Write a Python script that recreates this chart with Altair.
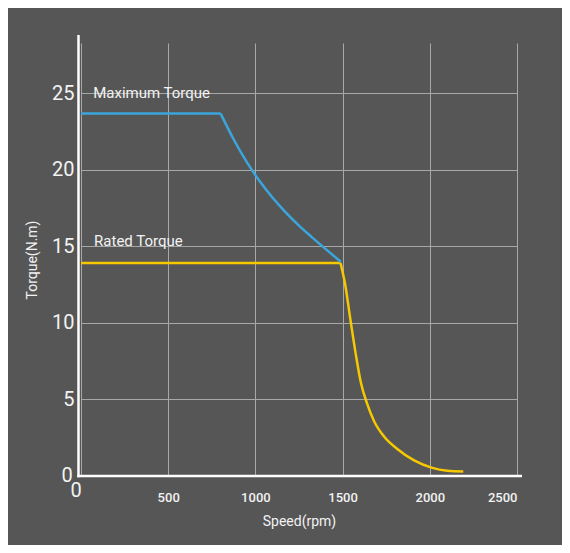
import altair as alt
import pandas as pd

# ---- data ----
max_speed = [0, 800, 875, 950, 1025, 1100, 1175, 1250, 1325, 1400, 1490]
max_torque = [23.7, 23.7, 22.01, 20.53, 19.26, 18.17, 17.22, 16.37, 15.60, 14.86, 14.0]

rated_speed = [0, 1488, 1515, 1545, 1575, 1605, 1640, 1680, 1740, 1810, 1910, 2010, 2100, 2192]
rated_torque = [13.92, 13.92, 12.5, 10.2, 8.0, 6.1, 4.75, 3.6, 2.55, 1.8, 1.02, 0.55, 0.35, 0.3]

series_names = ["Maximum Torque", "Rated Torque"]
series_colors = ["#3ba6dc", "#f6c800"]
label_speed = [70, 75]
label_torque = [25.0, 15.34]

x_ticks = [0, 500, 1000, 1500, 2000, 2500]
y_ticks = [0, 5, 10, 15, 20, 25]

FONT = "Roboto"
TXT = "#f2f2f2"
GRID = "#a8a8a8"
BG = "#565656"
W, H = 436, 433

# each series: a flat part (points 0..1) and a curved part (points 1..end)
rows = []
for name, sp, tq in [(series_names[0], max_speed, max_torque), (series_names[1], rated_speed, rated_torque)]:
    for i, (s, t) in enumerate(zip(sp, tq)):
        if i <= 1:
            rows.append({"series": name, "part": "flat", "speed": s, "torque": t, "idx": i})
        if i >= 1:
            rows.append({"series": name, "part": "curve", "speed": s, "torque": t, "idx": i})
df = pd.DataFrame(rows)

labels_df = pd.DataFrame({"text": series_names, "speed": label_speed, "torque": label_torque})
zero_df = pd.DataFrame({"speed": [0], "torque": [0], "text": ["0"]})

xscale = alt.Scale(domain=[0, 2500], nice=False, zero=False)
yscale = alt.Scale(domain=[0, 28.3], nice=False)

x_axis = alt.Axis(
    values=x_ticks, format="d", grid=True, gridColor=GRID, gridWidth=1, domain=False, ticks=False,
    labelExpr="datum.value == 0 ? '' : datum.label", labelFont=FONT, labelFontSize=13,
    labelFontWeight=500, labelColor=TXT, labelPadding=15, title="Speed(rpm)",
    titleFont=FONT, titleFontSize=14, titleFontWeight="normal", titleColor=TXT,
    titlePadding=10,
)
y_axis = alt.Axis(
    values=y_ticks, format="d", grid=True, gridColor=GRID, gridWidth=1, domain=False, ticks=False,
    labelExpr="datum.value == 0 ? '' : datum.label", labelFont=FONT, labelFontSize=20,
    labelColor=TXT, labelPadding=7, title="Torque(N.m)", titleFont=FONT, titleFontSize=14,
    titleFontWeight="normal", titleColor=TXT, titlePadding=12,
)

color = alt.Color("series:N", scale=alt.Scale(domain=series_names, range=series_colors), legend=None)

flat = alt.Chart(df).transform_filter("datum.part == 'flat'").mark_line(strokeWidth=2.5).encode(
    x=alt.X("speed:Q", scale=xscale, axis=x_axis),
    y=alt.Y("torque:Q", scale=yscale, axis=y_axis),
    color=color, order="idx:Q", detail="series:N",
)
curve = alt.Chart(df).transform_filter("datum.part == 'curve'").mark_line(
    strokeWidth=2.5, interpolate="monotone"
).encode(
    x=alt.X("speed:Q", scale=xscale),
    y=alt.Y("torque:Q", scale=yscale),
    color=color, order="idx:Q", detail="series:N",
)

annot = alt.Chart(labels_df).mark_text(
    align="left", baseline="middle", font=FONT, fontSize=15, color=TXT
).encode(
    x=alt.X("speed:Q", scale=xscale),
    y=alt.Y("torque:Q", scale=yscale),
    text="text:N",
)

zero_y = alt.Chart(zero_df).mark_text(
    align="center", baseline="middle", font=FONT, fontSize=20, color=TXT, dx=-14
).encode(x=alt.X("speed:Q", scale=xscale), y=alt.Y("torque:Q", scale=yscale), text="text:N")

zero_x = alt.Chart(zero_df).mark_text(
    align="center", baseline="middle", font=FONT, fontSize=20, color=TXT, dx=-5, dy=15
).encode(x=alt.X("speed:Q", scale=xscale), y=alt.Y("torque:Q", scale=yscale), text="text:N")

one = pd.DataFrame({"a": [0]})
y_line = alt.Chart(one).mark_rule(color="white", strokeWidth=2.5).encode(
    x=alt.value(-2.5), y=alt.value(-8), y2=alt.value(H + 1.25)
)
x_line = alt.Chart(one).mark_rule(color="white", strokeWidth=2.5).encode(
    x=alt.value(-3.75), x2=alt.value(W + 5), y=alt.value(H)
)

chart = alt.layer(flat, curve, annot, zero_y, zero_x, y_line, x_line).properties(
    width=W, height=H, background=BG,
    padding={"left": 73, "top": 35, "right": 45, "bottom": 69},
    autosize=alt.AutoSizeParams(type="none"),
).configure_view(stroke=None)

chart.save("out.html", embed_options={"renderer": "svg", "actions": False})
